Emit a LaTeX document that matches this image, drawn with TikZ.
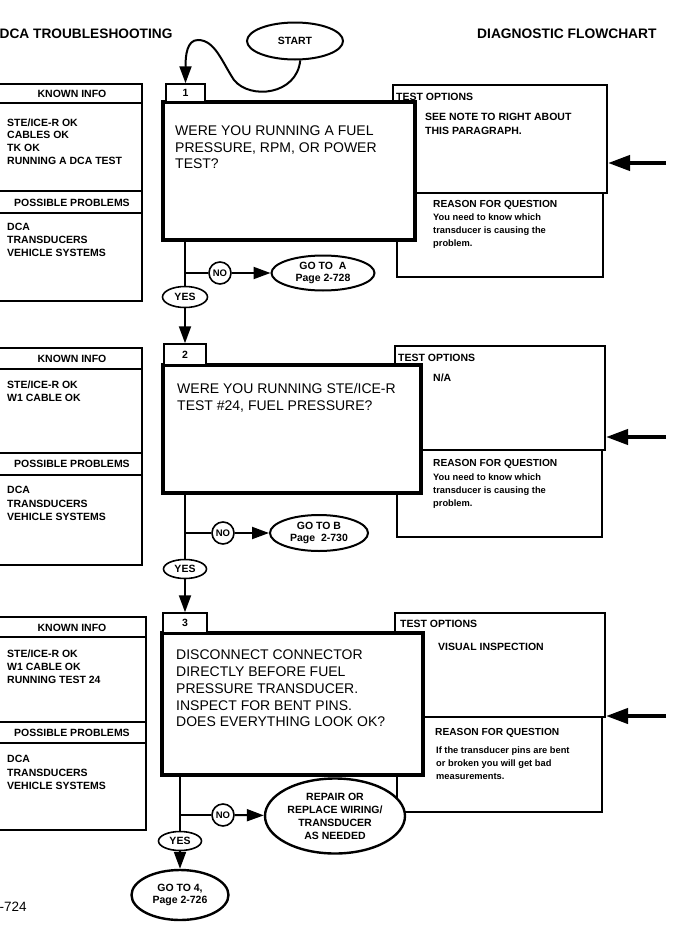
\documentclass[tikz,border=0pt]{standalone}
\usepackage{fontspec}
\setmainfont{Liberation Sans}
\usetikzlibrary{shapes.geometric,arrows.meta}
\tikzset{
  sm/.style={font=\fontsize{10.5}{12.7}\selectfont\bfseries, inner sep=0pt},
  blk/.style={sm, align=left, anchor=north west},
  blkb/.style={font=\fontsize{10.5}{13.3}\selectfont\bfseries, inner sep=0pt, align=left, anchor=north west},
  hd/.style={sm, anchor=center},
  qt/.style={font=\fontsize{14}{16.5}\selectfont, inner sep=0pt, align=left, anchor=north west},
  rh/.style={font=\fontsize{10.2}{12}\selectfont\bfseries, inner sep=0pt, anchor=west},
  rb/.style={font=\fontsize{9.3}{13.2}\selectfont\bfseries, inner sep=0pt, align=left, anchor=north west},
  qbox/.style={rectangle, draw, line width=4pt, fill=white, inner sep=0pt},
  numbox/.style={rectangle, draw, line width=1.5pt, fill=white, inner sep=0pt, font=\fontsize{10.5}{12}\selectfont\bfseries},
  tbox/.style={rectangle, draw, line width=2pt, inner sep=0pt},
  rbox/.style={rectangle, draw, line width=1.4pt, inner sep=0pt},
  kline/.style={line width=1.4pt},
  oval/.style={ellipse, draw, line width=2pt, fill=white, inner sep=0pt, align=center, font=\fontsize{10.5}{12.3}\selectfont\bfseries},
  yesoval/.style={ellipse, draw, line width=1.6pt, fill=white, inner sep=0pt, font=\fontsize{10.5}{12}\selectfont\bfseries},
  nocirc/.style={circle, draw, line width=1.6pt, fill=white, inner sep=0pt, minimum size=22pt, font=\fontsize{9.5}{11}\selectfont\bfseries},
  flow/.style={line width=2pt},
  arr/.style={line width=2pt, -{Triangle[length=17pt,width=12pt]}},
  bigarr/.style={line width=4pt, -{Triangle[length=22pt,width=15pt]}},
}
\begin{document}
\begin{tikzpicture}[x=1pt,y=-1pt]
\useasboundingbox (0,0) rectangle (676,926);
\clip (0,0) rectangle (676,926);
\fill[white] (0,0) rectangle (676,926);

% titles
\node[font=\fontsize{13.7}{16}\selectfont\bfseries, anchor=west, inner sep=0pt] (title) at (-0.5,34) {DCA TROUBLESHOOTING};
\node[font=\fontsize{13.8}{16}\selectfont\bfseries, anchor=west, inner sep=0pt] (title2) at (477,34) {DIAGNOSTIC FLOWCHART};
\node[font=\fontsize{13.5}{16}\selectfont, anchor=west, inner sep=0pt] (pg) at (-0.5,907) {-724};

% ---------- known info boxes ----------
\draw[kline] (-3,84) rectangle (142,301);
\draw[kline] (-3,103) -- (142,103) (-3,191) -- (142,191) (-3,213) -- (142,213);
\node[hd] (k1h) at (72,93.5) {KNOWN INFO};
\node[blk] (k1t) at (7,118.3) {STE/ICE-R OK\\CABLES OK\\TK OK\\RUNNING A DCA TEST};
\node[hd] (p1h) at (72,202.5) {POSSIBLE PROBLEMS};
\node[blk] (p1t) at (7,223.3) {DCA\\TRANSDUCERS\\VEHICLE SYSTEMS};

\draw[kline] (-3,348) rectangle (142,565);
\draw[kline] (-3,369) -- (142,369) (-3,453) -- (142,453) (-3,475) -- (142,475);
\node[hd] (k2h) at (72,358.5) {KNOWN INFO};
\node[blkb] (k2t) at (7,380.3) {STE/ICE-R OK\\W1 CABLE OK};
\node[hd] (p2h) at (72,464) {POSSIBLE PROBLEMS};
\node[blkb] (p2t) at (7,486.3) {DCA\\TRANSDUCERS\\VEHICLE SYSTEMS};

\draw[kline] (-3,617) rectangle (146,830);
\draw[kline] (-3,637) -- (146,637) (-3,722) -- (146,722) (-3,743) -- (146,743);
\node[hd] (k3h) at (72,627.5) {KNOWN INFO};
\node[blkb] (k3t) at (7,649.3) {STE/ICE-R OK\\W1 CABLE OK\\RUNNING TEST 24};
\node[hd] (p3h) at (72,732.5) {POSSIBLE PROBLEMS};
\node[blkb] (p3t) at (7,755.3) {DCA\\TRANSDUCERS\\VEHICLE SYSTEMS};

% ---------- test option / reason boxes ----------
\node[tbox, minimum width=214pt, minimum height=108pt] (t1) at (500,139) {};
\node[rbox, minimum width=206pt, minimum height=84pt] (r1) at (500,235) {};
\node[tbox, minimum width=210pt, minimum height=104pt] (t2) at (500,398) {};
\node[rbox, minimum width=205pt, minimum height=87pt] (r2) at (499.5,493.5) {};
\node[tbox, minimum width=210pt, minimum height=104pt] (t3) at (500,665) {};
\node[rbox, minimum width=205pt, minimum height=95pt] (r3) at (499.5,764.5) {};

\node[sm, anchor=west] (t1h) at (396,97) {TEST OPTIONS};
\node[blk, font=\fontsize{10.5}{14}\selectfont\bfseries] (t1t) at (425,113.3) {SEE NOTE TO RIGHT ABOUT\\THIS PARAGRAPH.};
\node[rh] (r1h) at (433,205) {REASON FOR QUESTION};
\node[rb] (r1t) at (433,213.6) {You need to know which\\transducer is causing the\\problem.};

\node[sm, anchor=west] (t2h) at (398,358) {TEST OPTIONS};
\node[sm, anchor=west] (t2t) at (433,378) {N/A};
\node[rh] (r2h) at (433,464) {REASON FOR QUESTION};
\node[rb] (r2t) at (433,473.6) {You need to know which\\transducer is causing the\\problem.};

\node[sm, anchor=west] (t3h) at (400,624) {TEST OPTIONS};
\node[sm, anchor=west] (t3t) at (438,647) {VISUAL INSPECTION};
\node[rh] (r3h) at (435,733) {REASON FOR QUESTION};
\node[rb] (r3t) at (436,746.6) {If the transducer pins are bent\\or broken you will get bad\\measurements.};

% ---------- question boxes ----------
\node[qbox, minimum width=252pt, minimum height=138pt] (q1) at (289,171) {};
\node[numbox, minimum width=39pt, minimum height=18pt] (n1) at (185.5,93) {1};
\node[qt] (q1t) at (175,126) {WERE YOU RUNNING A FUEL\\PRESSURE, RPM, OR POWER\\TEST?};

\node[qbox, minimum width=258pt, minimum height=128pt] (q2) at (292,429) {};
\node[numbox, minimum width=42pt, minimum height=21pt] (n2) at (185,354.5) {2};
\node[qt, font=\fontsize{14}{17}\selectfont] (q2t) at (177,383) {WERE YOU RUNNING STE/ICE-R\\TEST \#24, FUEL PRESSURE?};

\node[qbox, minimum width=261pt, minimum height=142pt] (q3) at (292.5,704) {};
\node[numbox, minimum width=44pt, minimum height=20pt] (n3) at (185,623) {3};
\node[qt, font=\fontsize{14}{16.7}\selectfont] (q3t) at (176,650) {DISCONNECT CONNECTOR\\DIRECTLY BEFORE FUEL\\PRESSURE TRANSDUCER.\\INSPECT FOR BENT PINS.\\DOES EVERYTHING LOOK OK?};

% ---------- side arrows ----------
\coordinate (e1) at (666,163);
\coordinate (e2) at (666,437);
\coordinate (e3) at (666,716);
\draw[bigarr] (e1) -- (e1 -| t1.east);
\draw[bigarr] (e2) -- (e2 -| t2.east);
\draw[bigarr] (e3) -- (e3 -| t3.east);

% ---------- start ----------
\node[oval, minimum width=96pt, minimum height=37pt] (st) at (295,41) {START};
\draw[arr] (st.-75) .. controls (297,95) and (250,100) .. (234,80) .. controls (222,62) and (215,40) .. (198,40) .. controls (187,40) and (185.5,55) .. (n1.north);

% ---------- flow 1 ----------
\coordinate (j1) at (185,273);
\node[nocirc] (no1) at (220,273) {NO};
\node[oval, minimum width=103pt, minimum height=35pt] (ga) at (323,273) {GO TO\ \ A\\Page 2-728};
\node[yesoval, minimum width=45pt, minimum height=21pt] (y1) at (185,297) {YES};
\draw[flow] (q1.south -| j1) -- (y1);
\draw[flow] (j1) -- (no1);
\draw[arr] (no1) -- (ga);
\draw[arr] (y1) -- (y1 |- n2.north);

% ---------- flow 2 ----------
\coordinate (j2) at (185,533);
\node[nocirc] (no2) at (223,533) {NO};
\node[oval, minimum width=98pt, minimum height=36pt] (gb) at (319,533) {GO TO B\\Page\ \ 2-730};
\node[yesoval, minimum width=43pt, minimum height=19pt] (y2) at (185,569) {YES};
\draw[flow] (q2.south -| j2) -- (y2);
\draw[flow] (j2) -- (no2);
\draw[arr] (no2) -- (gb);
\draw[arr] (y2) -- (y2 |- n3.north);

% ---------- flow 3 ----------
\coordinate (j3) at (180,815);
\node[nocirc] (no3) at (223,815) {NO};
\node[oval, line width=2.4pt, minimum width=140pt, minimum height=75pt, font=\fontsize{10.5}{13}\selectfont\bfseries] (rep) at (335,816) {REPAIR OR\\REPLACE WIRING/\\TRANSDUCER\\AS NEEDED};
\node[yesoval, minimum width=43pt, minimum height=19pt] (y3) at (180,841) {YES};
\node[oval, line width=2.4pt, minimum width=97pt, minimum height=50pt, font=\fontsize{10.5}{12}\selectfont\bfseries] (g4) at (180,895) {GO TO 4,\\Page 2-726};
\draw[flow] (q3.south -| j3) -- (y3);
\draw[flow] (j3) -- (no3);
\draw[arr] (no3) -- (rep);
\draw[arr] (y3) -- (g4);
\end{tikzpicture}
\end{document}
